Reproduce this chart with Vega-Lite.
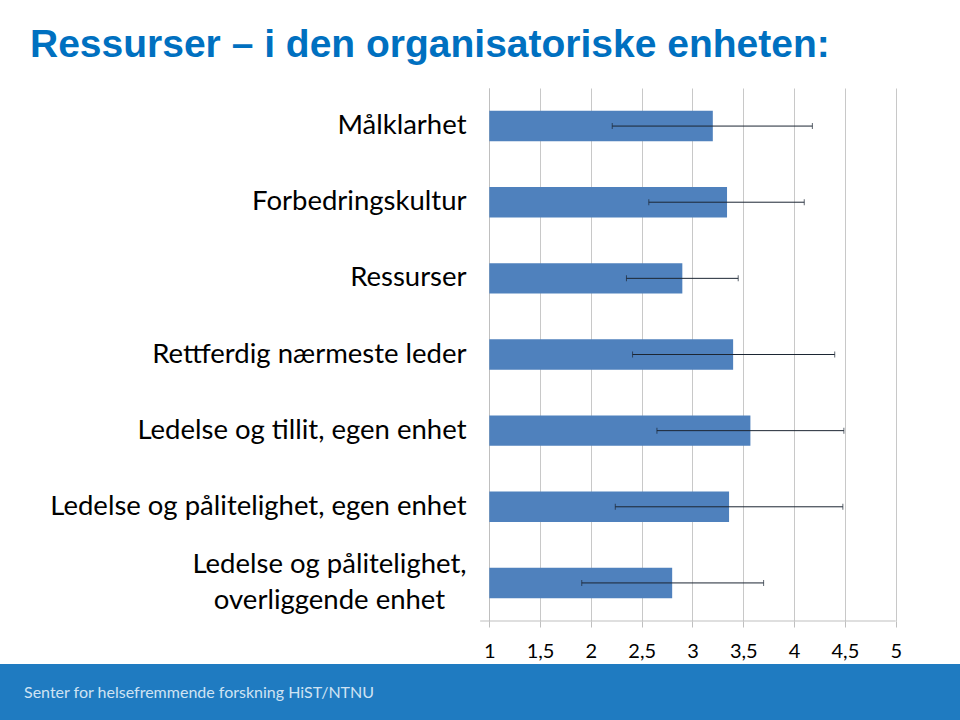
{
  "$schema": "https://vega.github.io/schema/vega-lite/v6.json",
  "background": "white",
  "padding": {"top": 26, "left": 0, "right": 0, "bottom": 0},
  "title": {"text": "Ressurser – i den organisatoriske enheten:", "anchor": "start", "frame": "bounds", "dx": 30, "font": "Liberation Sans", "fontWeight": "bold", "fontSize": 39, "color": "#0070C0", "offset": 23},
  "spacing": 3,
  "config": {
    "view": {"stroke": null},
    "axis": {"labelFont": "Lato", "labelColor": "#000000", "domainColor": "#bfbfbf", "gridColor": "#c8c8c8", "tickColor": "#bfbfbf", "title": null},
    "axisX": {"labelFontSize": 20, "tickSize": 6, "labelPadding": 14, "grid": true, "labelFlush": false, "domain": false},
    "axisY": {"labelFontSize": 27.5, "labelPadding": 23, "ticks": false, "grid": false, "labelLimit": 600, "offset": -489, "labelLineHeight": 36}
  },
  "vconcat": [
    {
      "width": 960,
      "height": 533,
      "data": {"values": [
        {"cat": "Målklarhet", "mean": 3.20, "lo": 2.21, "hi": 4.18},
        {"cat": "Forbedringskultur", "mean": 3.34, "lo": 2.57, "hi": 4.10},
        {"cat": "Ressurser", "mean": 2.90, "lo": 2.35, "hi": 3.45},
        {"cat": "Rettferdig nærmeste leder", "mean": 3.40, "lo": 2.41, "hi": 4.40},
        {"cat": "Ledelse og tillit, egen enhet", "mean": 3.57, "lo": 2.65, "hi": 4.49},
        {"cat": "Ledelse og pålitelighet, egen enhet", "mean": 3.36, "lo": 2.24, "hi": 4.48},
        {"cat": "Ledelse og pålitelighet, overliggende enhet", "mean": 2.80, "lo": 1.91, "hi": 3.70}
      ]},
      "encoding": {
        "y": {"field": "cat", "type": "nominal", "sort": null, "scale": {"paddingInner": 0.6, "paddingOuter": 0.3},
          "axis": {
            "labelExpr": "datum.value == 'Ledelse og pålitelighet, overliggende enhet' ? ['Ledelse og pålitelighet,', 'overliggende enhet'] : datum.value",
            "labelOffset": {"condition": {"test": "datum.value == 'Ledelse og pålitelighet, overliggende enhet'", "value": -18}, "value": 0},
            "labelAlign": {"condition": {"test": "datum.value == 'Ledelse og pålitelighet, overliggende enhet'", "value": "center"}, "value": "right"},
            "labelPadding": {"condition": {"test": "datum.value == 'Ledelse og pålitelighet, overliggende enhet'", "value": 160}, "value": 23}
          }}
      },
      "layer": [
        {"mark": {"type": "bar", "color": "#4F81BD"},
         "encoding": {
           "x": {"field": "mean", "type": "quantitative", "scale": {"domain": [-3.816, 5.633], "nice": false, "zero": false},
                 "axis": {"values": [1, 1.5, 2, 2.5, 3, 3.5, 4, 4.5, 5], "labelExpr": "replace(toString(datum.value), '.', ',')"}},
           "x2": {"datum": 1}
         }},
        {"mark": {"type": "rule", "color": "#1c2633", "strokeWidth": 1},
         "encoding": {"x": {"field": "lo", "type": "quantitative"}, "x2": {"field": "hi"}}},
        {"mark": {"type": "tick", "color": "#1c2633", "thickness": 1, "size": 6},
         "encoding": {"x": {"field": "lo", "type": "quantitative"}}},
        {"mark": {"type": "tick", "color": "#1c2633", "thickness": 1, "size": 6},
         "encoding": {"x": {"field": "hi", "type": "quantitative"}}},
        {"data": {"values": [{"from": 0.91, "to": 5}]},
         "mark": {"type": "rule", "color": "#bfbfbf", "strokeWidth": 1},
         "encoding": {"x": {"field": "from", "type": "quantitative"}, "x2": {"field": "to"}, "y": {"value": "height"}}}
      ]
    },
    {
      "width": 960,
      "height": 57,
      "view": {"fill": "#1F7BC1", "stroke": null},
      "title": {"text": "Senter for helsefremmende forskning HiST/NTNU", "orient": "top", "anchor": "start", "frame": "group", "dx": 24, "offset": -50, "baseline": "alphabetic", "font": "Lato", "fontSize": 16, "fontWeight": "normal", "color": "#cfe3f3"},
      "data": {"values": []},
      "mark": "point"
    }
  ]
}
